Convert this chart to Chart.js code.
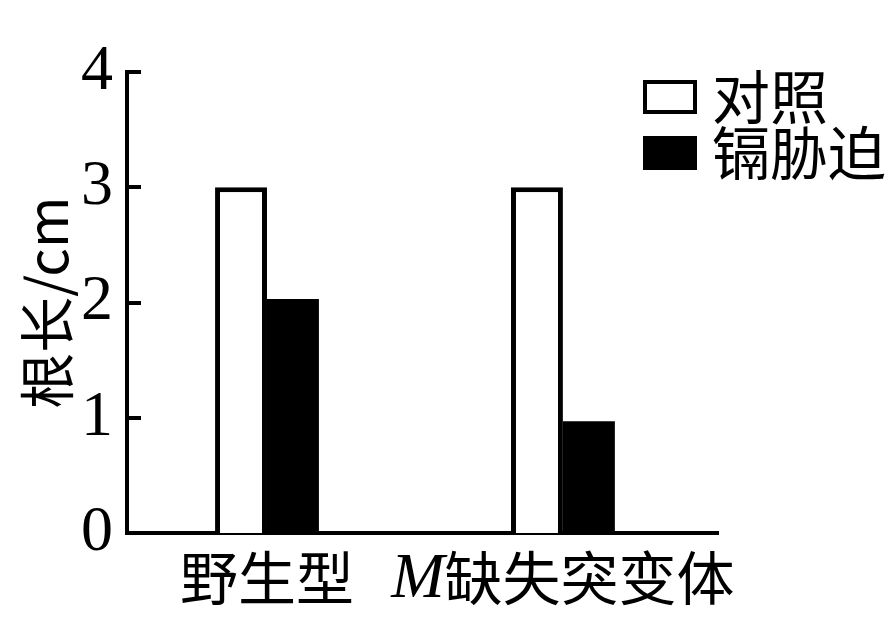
<!DOCTYPE html>
<html><head><meta charset="utf-8">
<script src="https://cdn.jsdelivr.net/npm/chart.js@4"></script>
<style>html,body{margin:0;padding:0;background:#fff}</style>
</head><body>
<canvas id="c" width="893" height="638" style="width:893px;height:638px"></canvas>
<script>
const categories = ['野生型', 'M缺失突变体'];
const seriesNames = ['对照', '镉胁迫'];
const controlValues = [3, 3];
const cadmiumValues = [2.03, 0.97];
const yTicks = [0, 1, 2, 3, 4];
const yTitle = '根长/cm';

const CJK = '"Noto Sans CJK SC", "Noto Sans", sans-serif';
const SERIF = '"Liberation Serif", "DejaVu Serif", serif';

const innerTicks = {
  id: 'innerTicks',
  afterDraw(chart) {
    const ctx = chart.ctx, y = chart.scales.y, a = chart.chartArea;
    ctx.save();
    ctx.strokeStyle = '#000'; ctx.lineWidth = 4;
    yTicks.filter(v => v > 0).forEach(v => {
      const py = Math.round(y.getPixelForValue(v));
      ctx.beginPath(); ctx.moveTo(a.left - 2, py); ctx.lineTo(a.left + 14, py); ctx.stroke();
    });
    ctx.restore();
  }
};

const xLabels = {
  id: 'xLabels',
  afterDraw(chart) {
    const ctx = chart.ctx, x = chart.scales.x;
    ctx.save();
    ctx.fillStyle = '#000'; ctx.textBaseline = 'middle'; ctx.textAlign = 'left';
    categories.forEach((lab, i) => {
      const m = lab.match(/^([A-Za-z]+)(.*)$/);
      const parts = m ? [{t: m[1], f: 'italic 64px ' + SERIF}, {t: m[2], f: '58px ' + CJK}]
                      : [{t: lab, f: '58px ' + CJK}];
      let w = 0;
      parts.forEach(p => { ctx.font = p.f; p.w = ctx.measureText(p.t).width; w += p.w; });
      let cx = x.getPixelForValue(i) - w / 2;
      const cy = 578;
      parts.forEach(p => { ctx.font = p.f; ctx.fillText(p.t, cx, p.f.indexOf('italic') === 0 ? cy + 2 : cy); cx += p.w; });
    });
    ctx.restore();
  }
};

const customLegend = {
  id: 'customLegend',
  afterDraw(chart) {
    const ctx = chart.ctx;
    ctx.save();
    const bx = 643, bw = 54, bh = 34;
    const rows = [97, 153];
    chart.data.datasets.forEach((ds, i) => {
      const cy = rows[i];
      if (ds.backgroundColor === '#000') {
        ctx.fillStyle = '#000';
        ctx.fillRect(bx, cy - bh / 2, bw, bh);
      } else {
        ctx.fillStyle = '#fff';
        ctx.fillRect(bx, cy - bh / 2, bw, bh);
        ctx.strokeStyle = '#000'; ctx.lineWidth = 4;
        ctx.strokeRect(bx + 2, cy - bh / 2 + 2, bw - 4, bh - 4);
      }
      ctx.fillStyle = '#000';
      ctx.font = '58px ' + CJK;
      ctx.textAlign = 'left'; ctx.textBaseline = 'middle';
      ctx.fillText(ds.label, 712, cy);
    });
    ctx.restore();
  }
};

new Chart(document.getElementById('c'), {
  type: 'bar',
  data: {
    datasets: [
      {
        label: seriesNames[0],
        data: categories.map((c, i) => ({x: i, y: controlValues[i]})),
        backgroundColor: '#fff', borderColor: '#000', borderWidth: 5
      },
      {
        label: seriesNames[1],
        data: categories.map((c, i) => ({x: i, y: cadmiumValues[i]})),
        backgroundColor: '#000', borderColor: '#000', borderWidth: 0
      }
    ]
  },
  options: {
    responsive: false,
    animation: false,
    devicePixelRatio: 1,
    layout: {padding: {left: 0, right: 175, top: 72, bottom: 0}},
    datasets: {bar: {barPercentage: 1, categoryPercentage: 0.351}},
    plugins: {legend: {display: false}, tooltip: {enabled: false}},
    scales: {
      x: {
        type: 'linear', min: -0.473, max: 1.524, offset: false,
        grid: {display: false, drawTicks: false, offset: false},
        ticks: {display: false},
        border: {display: true, color: '#000', width: 4},
        afterBuildTicks: s => { s.ticks = categories.map((c, i) => ({value: i})); },
        afterFit: s => { s.height = 105; }
      },
      y: {
        min: 0, max: 4,
        afterBuildTicks: s => { s.ticks = yTicks.map(v => ({value: v})); },
        grid: {display: false, drawTicks: false},
        border: {display: true, color: '#000', width: 4},
        ticks: {color: '#000', padding: 14, font: {family: SERIF, size: 64}},
        title: {display: true, text: yTitle, color: '#000', font: {family: CJK, size: 56}, padding: {top: 13, bottom: 0}},
        afterFit: s => { s.width = 127; }
      }
    }
  },
  plugins: [innerTicks, xLabels, customLegend]
});
</script>
</body></html>
